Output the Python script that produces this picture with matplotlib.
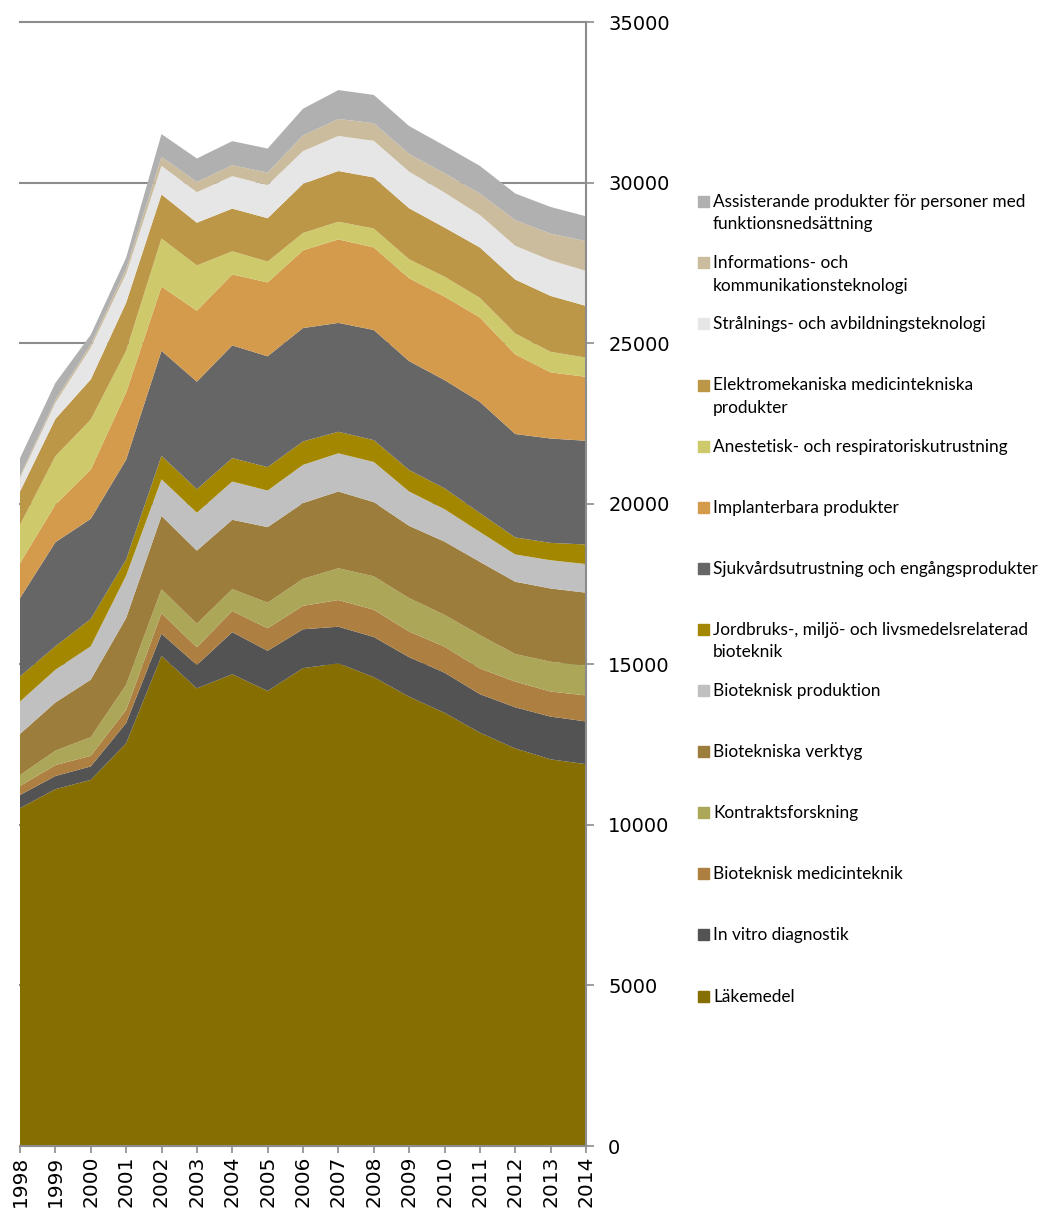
import matplotlib.pyplot as plt
from matplotlib.patches import Rectangle

years = list(range(1998, 2015))

# sales per product area, bottom layer first
lakemedel = [10520, 11110, 11400, 12540, 15260, 14250, 14690, 14170, 14880, 15030, 14600, 13990, 13490, 12870, 12380, 12040, 11890]
in_vitro = [410, 410, 420, 630, 690, 730, 1310, 1250, 1210, 1140, 1250, 1230, 1250, 1200, 1280, 1330, 1330]
biotek_medicinteknik = [280, 340, 330, 410, 640, 550, 660, 700, 730, 830, 850, 800, 810, 800, 800, 780, 810]
kontraktsforskning = [340, 450, 580, 780, 750, 730, 680, 800, 840, 990, 1040, 1040, 990, 1040, 860, 930, 930]
biotek_verktyg = [1280, 1500, 1790, 2080, 2280, 2280, 2160, 2350, 2360, 2390, 2310, 2250, 2280, 2280, 2250, 2280, 2270]
biotek_produktion = [1010, 1020, 1040, 1320, 1140, 1180, 1190, 1140, 1190, 1190, 1250, 1070, 1010, 930, 850, 880, 890]
jordbruk = [780, 730, 850, 500, 730, 730, 730, 730, 730, 670, 680, 670, 650, 590, 530, 540, 610]
sjukvard = [2440, 3240, 3120, 3110, 3270, 3350, 3510, 3450, 3530, 3390, 3430, 3390, 3370, 3460, 3220, 3250, 3230]
implanterbara = [1090, 1170, 1530, 2090, 2000, 2210, 2210, 2300, 2420, 2600, 2570, 2580, 2600, 2630, 2480, 2060, 1990]
anestetisk = [1190, 1510, 1560, 1300, 1500, 1410, 720, 650, 540, 550, 590, 590, 620, 610, 650, 640, 600]
elektromek = [1040, 1160, 1250, 1500, 1370, 1330, 1330, 1350, 1530, 1580, 1590, 1590, 1530, 1570, 1680, 1740, 1610]
stralning = [420, 500, 990, 900, 890, 950, 1010, 1030, 1020, 1090, 1140, 1140, 1090, 1010, 1050, 1110, 1090]
ikt = [70, 100, 100, 150, 280, 320, 340, 390, 490, 530, 550, 550, 600, 670, 800, 830, 930]
assisterande = [550, 520, 300, 350, 710, 730, 750, 750, 830, 900, 880, 870, 860, 860, 830, 830, 770]

labels = [
    "Läkemedel",
    "In vitro diagnostik",
    "Bioteknisk medicinteknik",
    "Kontraktsforskning",
    "Biotekniska verktyg",
    "Bioteknisk produktion",
    "Jordbruks-, miljö- och livsmedelsrelaterad\nbioteknik",
    "Sjukvårdsutrustning och engångsprodukter",
    "Implanterbara produkter",
    "Anestetisk- och respiratoriskutrustning",
    "Elektromekaniska medicintekniska\nprodukter",
    "Strålnings- och avbildningsteknologi",
    "Informations- och\nkommunikationsteknologi",
    "Assisterande produkter för personer med\nfunktionsnedsättning",
]
colors = ["#866F00", "#535353", "#AD7F40", "#ABA658", "#9C7D3B", "#C0C0C0", "#A38700",
          "#666666", "#D49B4D", "#CECA6B", "#BD9748", "#E6E6E6", "#CBBC9E", "#B0B0B0"]

series = [lakemedel, in_vitro, biotek_medicinteknik, kontraktsforskning, biotek_verktyg,
          biotek_produktion, jordbruk, sjukvard, implanterbara, anestetisk, elektromek,
          stralning, ikt, assisterande]

W, H = 1040, 1210
fig = plt.figure(figsize=(W / 100, H / 100), dpi=100)
ax = fig.add_axes([20 / W, 1 - 1146 / H, 566 / W, 1124 / H])

ax.stackplot(years, *series, colors=colors, linewidth=0)

ax.set_xlim(1998, 2014)
ax.set_ylim(0, 35000)
ax.set_xticks(years)
ax.set_xticklabels([str(y) for y in years], rotation=90)
ax.set_yticks(range(0, 35001, 5000))

ax.yaxis.tick_right()
grid_col = "#8C8C8C"
ax.set_axisbelow(True)
ax.yaxis.grid(True, color=grid_col, linewidth=1.5)
for ln in ax.get_ygridlines():
    ln.set_clip_on(False)

for side in ["left", "top"]:
    ax.spines[side].set_visible(False)
for side in ["right", "bottom"]:
    ax.spines[side].set_color(grid_col)
    ax.spines[side].set_linewidth(1.5)

ax.tick_params(axis="y", direction="out", length=6, width=1.2, color=grid_col,
               labelsize=14, pad=10)
ax.tick_params(axis="x", direction="out", length=5, width=1.2, color=grid_col,
               labelsize=14.5, pad=2)

# legend on the right, top entry first
sq = 11
x_sq = 698
x_txt = 713
y0 = 201.7
step = 61.1
line_h = 22.3
for i, idx in enumerate(range(len(series) - 1, -1, -1)):
    yc = y0 + i * step
    fig.patches.append(Rectangle((x_sq / W, 1 - (yc + sq / 2) / H), sq / W, sq / H,
                                 transform=fig.transFigure, color=colors[idx]))
    for j, line in enumerate(labels[idx].split("\n")):
        fig.text(x_txt / W, 1 - (yc + 5.5 + j * line_h) / H, line, fontsize=12.4,
                 family="Lato", color="black", va="baseline", ha="left")

fig.savefig("out.png", dpi=100)
